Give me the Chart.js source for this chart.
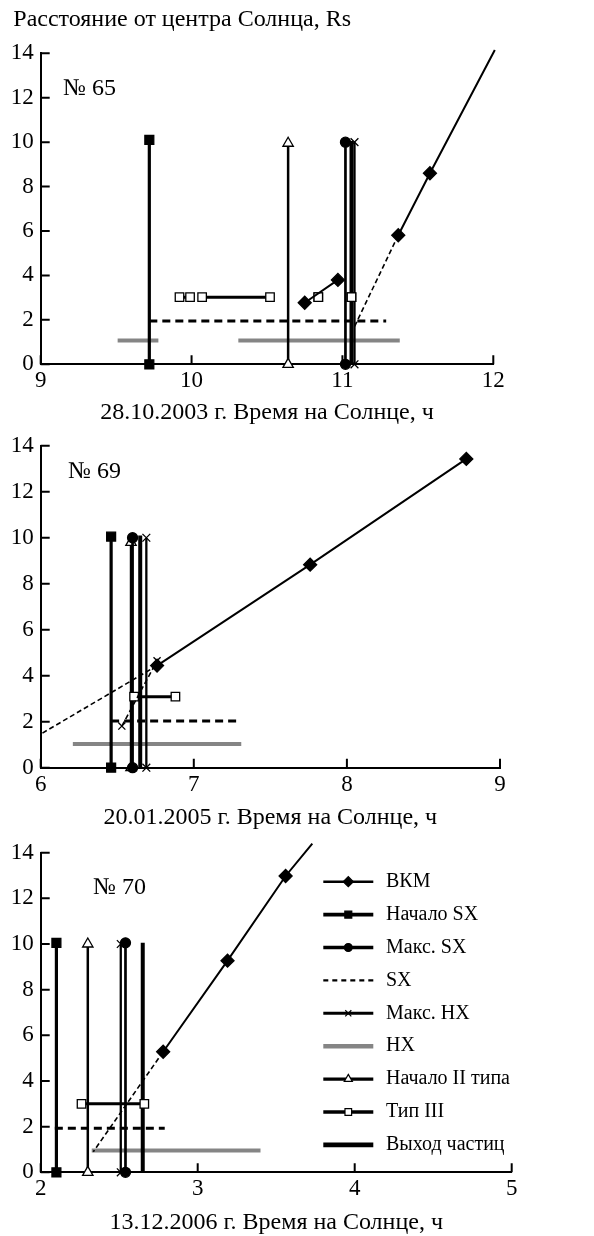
<!DOCTYPE html>
<html>
<head>
<meta charset="utf-8">
<script src="https://cdn.jsdelivr.net/npm/chart.js@4.4.1/dist/chart.umd.min.js"></script>
<style>
  body { margin: 0; background: #fff; width: 594px; height: 1236px; position: relative; overflow: hidden; }
  canvas { position: absolute; left: 0; }
</style>
</head>
<body>
<canvas id="c65" width="594" height="430" style="top:0px"></canvas>
<canvas id="c69" width="594" height="410" style="top:425px"></canvas>
<canvas id="c70" width="594" height="406" style="top:830px"></canvas>
<script>
// ---- data (time in hours, distance in Rs) ----
// № 65, 28.10.2003
const vkm65 = [[10.75, 2.77], [10.97, 3.80], null, [11.37, 5.81], [11.58, 8.60]];
const vkm65End = [12.01, 14.15];
const vkm65Dash = [[11.37, 5.81], [11.08, 1.70]];
const sxStart65 = [9.72, 10.1];     // [time, top of marker line]
const sxMax65 = [11.02, 10.0];
const hxMax65 = [11.08, 10.0];
const typeII65 = [10.64, 9.95];
const particles65 = [11.06, 10.05];
const sx65 = [[9.72, 11.29, 1.95]];                 // [from, to, level]
const hx65 = [[9.51, 9.78, 1.07], [10.31, 11.38, 1.07]];
const typeIII65 = [[9.92, 9.99, 3.02], [10.07, 10.52, 3.02], [10.84, 10.84, 3.02], [11.06, 11.06, 3.02]];

// № 69, 20.01.2005
const vkm69 = [[6.76, 4.44], [7.76, 8.83], [8.78, 13.43]];
const vkm69End = null;
const vkm69Dash = [[6.76, 4.44], [6.00, 1.46]];
const hxDash69 = [[6.53, 1.81], [6.76, 4.65]];
const sxStart69 = [6.46, 10.05];
const sxMax69 = [6.60, 10.0];
const hxMax69 = [6.69, 10.0];
const typeII69 = [6.59, 9.8];
const particles69 = [6.65, 10.1];
const sx69 = [[6.46, 7.28, 2.03]];
const hx69 = [[6.21, 7.31, 1.03]];
const typeIII69 = [[6.61, 6.88, 3.09]];

// № 70, 13.12.2006
const vkm70 = [[2.78, 5.28], [3.19, 9.27], [3.56, 12.98]];
const vkm70End = [3.73, 14.4];
const vkm70Dash = [[2.78, 5.28], [2.335, 0.90]];
const sxStart70 = [2.10, 10.05];
const sxMax70 = [2.54, 10.05];
const hxMax70 = [2.51, 10.0];
const typeII70 = [2.30, 10.0];
const particles70 = [2.65, 10.05];
const sx70 = [[2.09, 2.79, 1.93]];
const hx70 = [[2.325, 3.40, 0.95]];
const typeIII70 = [[2.26, 2.66, 3.0]];

const yTicks = [0, 14, 2];   // min, max, step
const legendLabels = ['ВКМ', 'Начало SX', 'Макс. SX', 'SX', 'Макс. HX', 'HX', 'Начало II типа', 'Тип III', 'Выход частиц'];

// ---- styles ----
const SERIF = '"Liberation Serif", "DejaVu Serif", serif';
const FS_TICK = 23;
const FS_TEXT = 24;
const ST = {
  vkm:      { w: 2,   ps: 'rectRot',  r: 6.5, fill: '#000' },
  sxStart:  { w: 3.2, ps: 'rect',     r: 6.3, fill: '#000' },
  sxMax:    { w: 2.7, ps: 'circle',   r: 5,   fill: '#000' },
  sx:       { w: 3,   dash: [8, 5] },
  hxMax:    { w: 2.3, ps: 'crossRot', r: 5.5, fill: '#000' },
  hx:       { w: 4,   color: '#858585' },
  typeII:   { w: 2.5, ps: 'triangle', r: 6,   fill: '#fff' },
  typeIII:  { w: 3,   ps: 'rect',     r: 6,   fill: '#fff' },
  particles:{ w: 4 }
};

function ds(points, st, extra) {
  return Object.assign({
    data: points,
    showLine: true,
    spanGaps: false,
    borderColor: st.color || '#000',
    borderWidth: st.w,
    borderDash: st.dash || [],
    pointStyle: st.ps || 'circle',
    pointRadius: st.ps ? st.r : 0,
    pointBackgroundColor: st.fill || '#000',
    pointBorderColor: '#000',
    pointBorderWidth: 1.3,
    clip: false
  }, extra || {});
}
const xy = arr => arr.map(p => p ? { x: p[0], y: p[1] } : { x: null, y: null });
const vertical = ev => [{ x: ev[0], y: 0 }, { x: ev[0], y: ev[1] }];
function intervals(list) {
  const out = [];
  list.forEach((iv, i) => {
    if (i) out.push({ x: iv[0], y: null });
    out.push({ x: iv[0], y: iv[2] }, { x: iv[1], y: iv[2] });
  });
  return out;
}

function buildDatasets(d) {
  const sets = [];
  const vkmPts = xy(d.vkm);
  if (d.vkmEnd) {
    vkmPts.push({ x: d.vkmEnd[0], y: d.vkmEnd[1] });
  }
  const last = vkmPts.length - 1;
  sets.push(ds(vkmPts, ST.vkm, {
    pointRadius: c => (d.vkmEnd && c.dataIndex === last) ? 0 : ST.vkm.r
  }));
  sets.push(ds(xy(d.vkmDash), { w: 1.6, dash: [5, 3] }));
  if (d.hxDash) sets.push(ds(xy(d.hxDash), { w: 1.6, dash: [5, 3], ps: 'crossRot', r: 5 }));
  sets.push(ds(intervals(d.typeIII), ST.typeIII));
  sets.push(ds(vertical(d.sxStart), ST.sxStart));
  sets.push(ds(vertical(d.sxMax), ST.sxMax));
  sets.push(ds(vertical(d.hxMax), ST.hxMax));
  sets.push(ds(vertical(d.typeII), ST.typeII));
  sets.push(ds(vertical(d.particles), ST.particles));
  sets.push(ds(intervals(d.sx), ST.sx));
  sets.push(ds(intervals(d.hx), ST.hx));
  return sets;
}

// inward tick marks on both axes
const inwardTicks = {
  id: 'inwardTicks',
  afterDraw(chart) {
    const { ctx, chartArea: a, scales: { x, y } } = chart;
    ctx.save();
    ctx.strokeStyle = '#000';
    ctx.lineWidth = 2;
    ctx.beginPath();
    x.ticks.forEach(t => {
      const px = x.getPixelForValue(t.value);
      ctx.moveTo(px, a.bottom); ctx.lineTo(px, a.bottom - 9);
    });
    y.ticks.forEach(t => {
      const py = y.getPixelForValue(t.value);
      ctx.moveTo(a.left, py); ctx.lineTo(a.left + 9, py);
    });
    ctx.stroke();
    ctx.restore();
  }
};

function drawLegend(ctx, L) {
  const styles = [ST.vkm, ST.sxStart, ST.sxMax, ST.sx, ST.hxMax, ST.hx, ST.typeII, ST.typeIII, ST.particles];
  legendLabels.forEach((lab, i) => {
    const st = styles[i];
    const y = L.y0 + i * L.dy;
    ctx.save();
    ctx.strokeStyle = st.color || '#000';
    ctx.lineWidth = st.dash ? 2.2 : st.w + 0.6;
    ctx.setLineDash(st.dash ? [5, 4] : []);
    ctx.beginPath(); ctx.moveTo(L.x0, y); ctx.lineTo(L.x1, y); ctx.stroke();
    ctx.setLineDash([]);
    if (st.ps) {
      ctx.fillStyle = st.fill;
      ctx.strokeStyle = '#000';
      ctx.lineWidth = 1.2;
      Chart.helpers.drawPoint(ctx, { pointStyle: st.ps, radius: st.r * 0.78, borderWidth: 1.2, rotation: 0 }, (L.x0 + L.x1) / 2, y);
    }
    ctx.fillStyle = '#000';
    ctx.font = L.fs + 'px ' + SERIF;
    ctx.textBaseline = 'middle';
    ctx.textAlign = 'left';
    ctx.fillText(lab, L.tx, y);
    ctx.restore();
  });
}

function makePanel(id, d, P) {
  const notes = {
    id: 'notes',
    afterDraw(chart) {
      const ctx = chart.ctx;
      ctx.save();
      ctx.fillStyle = '#000';
      ctx.font = FS_TEXT + 'px ' + SERIF;
      ctx.textBaseline = 'middle';
      ctx.textAlign = 'left';
      ctx.fillText(P.num, P.numXY[0], P.numXY[1]);
      if (P.heading) ctx.fillText(P.heading, P.headXY[0], P.headXY[1]);
      ctx.restore();
      if (P.legend) drawLegend(ctx, P.legend);
    }
  };
  const tickFont = { family: SERIF, size: FS_TICK };
  const textFont = { family: SERIF, size: FS_TEXT };
  new Chart(document.getElementById(id), {
    type: 'scatter',
    data: { datasets: buildDatasets(d) },
    options: {
      responsive: false,
      animation: false,
      events: [],
      layout: { padding: { top: P.t, left: 0, right: 594 - P.r, bottom: 0 } },
      plugins: { legend: { display: false }, tooltip: { enabled: false } },
      scales: {
        x: {
          type: 'linear', min: P.x[0], max: P.x[1],
          ticks: { stepSize: 1, color: '#000', font: tickFont, padding: 3, autoSkip: false, maxRotation: 0 },
          grid: { display: false, drawTicks: false },
          border: { display: true, color: '#000', width: 2 },
          title: { display: true, text: P.title, color: '#000', font: textFont, padding: { top: 0, bottom: P.titlePad } },
          afterFit(s) { s.height = P.h - P.b; }
        },
        y: {
          type: 'linear', min: yTicks[0], max: yTicks[1],
          ticks: { stepSize: yTicks[2], color: '#000', font: tickFont, padding: 7 },
          grid: { display: false, drawTicks: false },
          border: { display: true, color: '#000', width: 2 },
          afterFit(s) { s.width = P.l; }
        }
      }
    },
    plugins: [inwardTicks, notes]
  });
}

makePanel('c65', {
  vkm: vkm65, vkmEnd: vkm65End, vkmDash: vkm65Dash, sxStart: sxStart65, sxMax: sxMax65, hxMax: hxMax65,
  typeII: typeII65, particles: particles65, sx: sx65, hx: hx65, typeIII: typeIII65
}, {
  h: 430, l: 40.7, t: 53.3, r: 493.3, b: 364.3, x: [9, 12], titlePad: 2.6,
  title: '28.10.2003 г. Время на Солнце, ч',
  num: '№ 65', numXY: [63, 89],
  heading: 'Расстояние от центра Солнца, Rs', headXY: [13.3, 20]
});

makePanel('c69', {
  vkm: vkm69, vkmEnd: vkm69End, vkmDash: vkm69Dash, hxDash: hxDash69, sxStart: sxStart69, sxMax: sxMax69, hxMax: hxMax69,
  typeII: typeII69, particles: particles69, sx: sx69, hx: hx69, typeIII: typeIII69
}, {
  h: 410, l: 40.7, t: 13.3, r: 500, b: 342.7, x: [6, 9], titlePad: 2.6,
  title: '20.01.2005 г. Время на Солнце, ч',
  num: '№ 69', numXY: [68, 47]
});

makePanel('c70', {
  vkm: vkm70, vkmEnd: vkm70End, vkmDash: vkm70Dash, sxStart: sxStart70, sxMax: sxMax70, hxMax: hxMax70,
  typeII: typeII70, particles: particles70, sx: sx70, hx: hx70, typeIII: typeIII70
}, {
  h: 406, l: 40.7, t: 22.7, r: 511.7, b: 342.3, x: [2, 5], titlePad: -1.4,
  title: '13.12.2006 г. Время на Солнце, ч',
  num: '№ 70', numXY: [93, 58],
  legend: { x0: 323.3, x1: 373.3, tx: 386, y0: 51.7, dy: 32.9, fs: 20 }
});
</script>
</body>
</html>
